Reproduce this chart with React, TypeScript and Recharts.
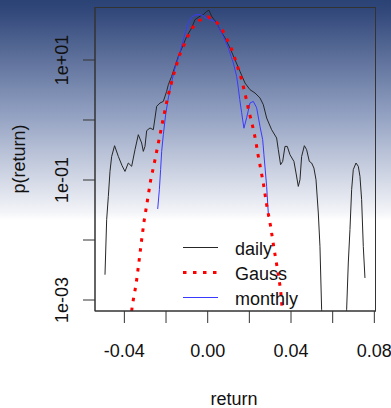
import React from "react";
import { LineChart, Line, XAxis, YAxis } from "recharts";

// ---- data (return, density) ----
const dailyX = [
  -0.0493, -0.0485, -0.0477, -0.0469, -0.0461, -0.0447, -0.0429, -0.0411, -0.0397, -0.0381,
  -0.0365, -0.0349, -0.0333, -0.0317, -0.0309, -0.0301, -0.0293, -0.0277, -0.0261, -0.0253,
  -0.0245, -0.0229, -0.0213, -0.0197, -0.0189, -0.0173, -0.0157, -0.0141, -0.0117, -0.0101,
  -0.0077, -0.0061, -0.0037, -0.0021, -0.0005, 0.0006, 0.0019, 0.0043, 0.0059, 0.0083,
  0.0107, 0.0131, 0.0155, 0.0179, 0.0203, 0.0227, 0.0251, 0.0267, 0.0283, 0.0307,
  0.0331, 0.0339, 0.035, 0.036, 0.0371, 0.0382, 0.0395, 0.0414, 0.0424, 0.0435,
  0.0443, 0.0451, 0.0464, 0.0475, 0.0488, 0.0499, 0.051, 0.052, 0.0531, 0.0539,
  0.0547, 0.0555, 0.06, 0.0655, 0.0667, 0.0675, 0.0683, 0.0691, 0.0699, 0.0712,
  0.0723, 0.0731, 0.0739, 0.0747, 0.0755,
];
const dailyY = [
  0.00264, 0.0218, 0.0533, 0.139, 0.247, 0.373, 0.247, 0.173, 0.139, 0.192,
  0.169, 0.32, 0.569, 0.414, 0.3, 0.363, 0.664, 0.736, 0.689, 1.08,
  1.69, 1.92, 2.04, 3.0, 3.87, 5.33, 7.82, 11.5, 18.0, 24.7,
  34.1, 47.0, 53.7, 56.9, 64.6, 67.6, 53.3, 41.4, 32.0, 23.3,
  15.8, 10.1, 6.46, 4.14, 3.2, 2.82, 2.33, 1.8, 1.08, 0.689,
  0.501, 0.32, 0.18, 0.204, 0.363, 0.363, 0.264, 0.204, 0.131, 0.0782,
  0.101, 0.247, 0.373, 0.32, 0.204, 0.192, 0.158, 0.101, 0.0282, 0.00782,
  0.000689, 0.0001, 0.000001, 0.0001, 0.000689, 0.00414, 0.0149, 0.0689, 0.149, 0.192,
  0.169, 0.115, 0.047, 0.00782, 0.00233,
];

const monthlyX = [
  -0.024, -0.0232, -0.0226, -0.0221, -0.0213, -0.0202, -0.0189, -0.0176, -0.0157, -0.0141,
  -0.0128, -0.0117, -0.0106, -0.0093, -0.0077, -0.0061, -0.0037, -0.0023, -0.0008, 0.0011,
  0.0035, 0.0051, 0.0075, 0.0099, 0.0123, 0.0139, 0.0147, 0.0154, 0.0163, 0.0174,
  0.0187, 0.0203, 0.0219, 0.0235, 0.0251, 0.0264, 0.027, 0.0283, 0.0292,
];
const monthlyY = [
  0.0329, 0.0689, 0.149, 0.3, 0.569, 1.22, 2.33, 3.87, 7.36, 10.8,
  15.8, 21.8, 30.0, 41.4, 51.6, 56.2, 56.9, 54.7, 50.1, 47.0,
  44.0, 36.3, 24.7, 15.8, 8.91, 5.33, 3.41, 2.18, 1.32, 0.73,
  1.09, 1.92, 2.04, 1.6, 0.782, 0.47, 0.264, 0.0782, 0.0244,
];

const gaussX = [
  -0.037, -0.0362, -0.0344, -0.0331, -0.0319, -0.0306, -0.029, -0.0274, -0.0253, -0.0232,
  -0.0213, -0.0192, -0.0165, -0.0136, -0.0096, -0.0074, -0.0042, 0.0, 0.004, 0.007,
  0.0094, 0.0115, 0.0131, 0.0147, 0.0163, 0.0176, 0.0187, 0.0198, 0.0211, 0.0222,
  0.0232, 0.024, 0.0267, 0.0283, 0.0302, 0.0318, 0.0334, 0.035, 0.0357, 0.037,
];
const gaussY = [
  0.000447, 0.000813, 0.0018, 0.00403, 0.00891, 0.02, 0.044, 0.0984, 0.218, 0.501,
  1.08, 2.38, 5.47, 11.9, 24.7, 34.1, 45.2, 52.5, 44.0, 32.0,
  21.8, 15.2, 10.5, 7.08, 4.7, 3.08, 2.1, 1.39, 0.927, 0.631,
  0.424, 0.282, 0.0891, 0.0387, 0.0169, 0.00736, 0.00341, 0.00149, 0.000736, 0.000398,
];

const xTicks = [-0.04, -0.02, 0, 0.02, 0.04, 0.06, 0.08];
const xTickLabels = ["-0.04", "", "0.00", "", "0.04", "", "0.08"];
const yTicks = [0.001, 0.01, 0.1, 1, 10];
const yTickLabels = ["1e-03", "", "1e-01", "", "1e+01"];

const legendNames = ["daily", "Gauss", "monthly"];
const seriesColors = ["#262626", "#ff0000", "#3a3aff"];

const xDomain = [-0.0541, 0.0808];
const yDomain = [0.000656, 76.4];

const dailyData = dailyX.map((x, i) => ({ x, y: dailyY[i] }));
const monthlyData = monthlyX.map((x, i) => ({ x, y: monthlyY[i] }));
const gaussData = gaussX.map((x, i) => ({ x, y: gaussY[i] }));

const FONT = "'Liberation Sans', Arial, sans-serif";

const XTick = (props: any) => {
  const { x, payload } = props;
  const idx = xTicks.findIndex((t) => Math.abs(t - payload.value) < 1e-9);
  const label = idx >= 0 ? xTickLabels[idx] : "";
  if (!label) return null;
  return (
    <text x={x} y={357} textAnchor="middle" fontSize={18} fill="#111" fontFamily={FONT}>
      {label}
    </text>
  );
};

const YTick = (props: any) => {
  const { y, payload } = props;
  const idx = yTicks.findIndex((t) => Math.abs(t - payload.value) / t < 1e-6);
  const label = idx >= 0 ? yTickLabels[idx] : "";
  if (!label) return null;
  const bx = 68.5;
  return (
    <text
      x={bx}
      y={y}
      textAnchor="middle"
      fontSize={18}
      fill="#111"
      fontFamily={FONT}
      transform={`rotate(-90 ${bx} ${y})`}
    >
      {label}
    </text>
  );
};

export default function App() {
  return (
    <div
      style={{
        position: "absolute",
        left: 0,
        top: 0,
        width: 391,
        height: 408,
        overflow: "hidden",
        background:
          "linear-gradient(to bottom, #2a4274 0%, #33497b 3%, #8e9dbf 27%, #f3f4f8 52%, #ffffff 54%, #ffffff 100%)",
      }}
    >
      <LineChart
        width={391}
        height={408}
        margin={{ top: 7, right: 15, bottom: 0, left: 0 }}
        style={{ position: "absolute", left: 0, top: 0 }}
      >
        <XAxis
          dataKey="x"
          type="number"
          domain={xDomain}
          allowDataOverflow
          ticks={xTicks}
          interval={0}
          tickSize={12}
          height={97}
          stroke="#333"
          tickLine={{ stroke: "#333" }}
          axisLine={{ stroke: "#333" }}
          tick={<XTick />}
        />
        <YAxis
          type="number"
          scale="log"
          domain={yDomain}
          allowDataOverflow
          ticks={yTicks}
          interval={0}
          tickSize={12}
          width={95}
          stroke="#333"
          tickLine={{ stroke: "#333" }}
          axisLine={{ stroke: "#333" }}
          tick={<YTick />}
        />
        <Line
          data={dailyData}
          dataKey="y"
          type="linear"
          stroke={seriesColors[0]}
          strokeWidth={1}
          dot={false}
          isAnimationActive={false}
        />
        <Line
          data={monthlyData}
          dataKey="y"
          type="linear"
          stroke={seriesColors[2]}
          strokeWidth={1}
          dot={false}
          isAnimationActive={false}
        />
        <Line
          data={gaussData}
          dataKey="y"
          type="linear"
          stroke={seriesColors[1]}
          strokeWidth={3}
          strokeDasharray="3.5 6.5"
          dot={false}
          isAnimationActive={false}
        />
      </LineChart>
      <svg
        width={391}
        height={408}
        style={{ position: "absolute", left: 0, top: 0, pointerEvents: "none" }}
      >
        <rect x={95} y={7.5} width={280.5} height={303.5} fill="none" stroke="#333" strokeWidth={1} />
        {legendNames.map((name, i) => {
          const cy = 247.5 + i * 25;
          return (
            <g key={name}>
              <line
                x1={183}
                x2={218}
                y1={cy}
                y2={cy}
                stroke={seriesColors[i]}
                strokeWidth={i === 1 ? 3 : 1}
                strokeDasharray={i === 1 ? "3.5 6.5" : undefined}
              />
              <text x={235} y={cy + 7.5} fontSize={18} fill="#111" fontFamily={FONT}>
                {name}
              </text>
            </g>
          );
        })}
        <text x={234} y={404.5} textAnchor="middle" fontSize={18} fill="#111" fontFamily={FONT}>
          return
        </text>
        <text
          x={24.5}
          y={159}
          textAnchor="middle"
          fontSize={18}
          fill="#111"
          fontFamily={FONT}
          transform="rotate(-90 24.5 159)"
        >
          p(return)
        </text>
      </svg>
    </div>
  );
}
